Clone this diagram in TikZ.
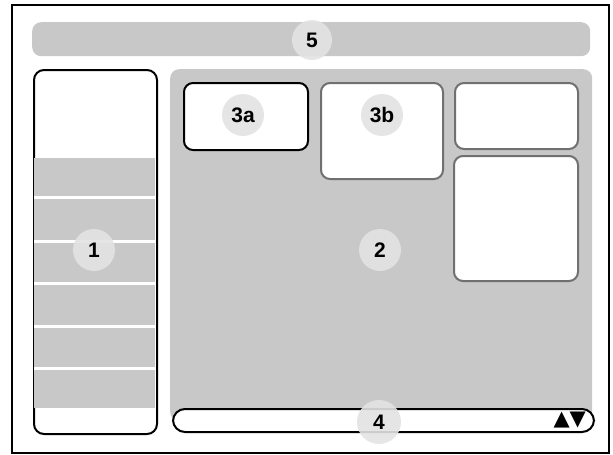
\documentclass[tikz,border=0pt]{standalone}
\usepackage{fontspec}
\setmainfont{Liberation Sans}
\newfontfamily\symfont{DejaVu Sans}
\definecolor{panelgray}{HTML}{C8C8C8}
\definecolor{badgegray}{HTML}{E3E3E3}
\definecolor{boxedge}{HTML}{707070}
\begin{document}
\begin{tikzpicture}[x=1pt,y=-1pt,
  frame/.style={draw=black, line width=1.5pt, inner sep=0pt, anchor=north west},
  graypanel/.style={fill=panelgray, rounded corners=9pt, inner sep=0pt, anchor=north west},
  blackwin/.style={draw=black, line width=2pt, fill=white, rounded corners=9pt, inner sep=0pt, anchor=north west},
  graywin/.style={draw=boxedge, line width=2pt, fill=white, rounded corners=9pt, inner sep=0pt, anchor=north west},
  badge/.style={circle, fill=badgegray, fill opacity=0.9, text opacity=1, minimum size=42pt, inner sep=0pt, font=\bfseries\fontsize{21}{21}\selectfont},
  stripe/.style={white, line width=3pt}
]
\useasboundingbox (0,0) rectangle (613,455);
\node[frame, minimum width=597pt, minimum height=448pt] (outer) at (11,4) {};
% top bar 5
\node[graypanel, minimum width=558pt, minimum height=34pt] (topbar) at (32,22) {};
% main area 2
\node[graypanel, minimum width=422pt, minimum height=352pt] (main) at (170,69) {};
% left panel 1
\node[blackwin, rounded corners=10pt, minimum width=123pt, minimum height=364pt] (left) at (33,69) {};
\fill[panelgray] (34,158) rectangle (155,408);
\foreach \yy in {197,241,283,326,368} \draw[stripe] (34,\yy) -- (155,\yy);
% windows
\node[blackwin, minimum width=124pt, minimum height=67pt] (w3a) at (183,82) {};
\node[graywin, minimum width=122pt, minimum height=96pt] (w3b) at (320,82) {};
\node[graywin, minimum width=123pt, minimum height=66pt] (wtr) at (454,82) {};
\node[graywin, minimum width=124pt, minimum height=125pt] (wbr) at (453,155) {};
% bottom bar 4
\node[blackwin, rounded corners=12pt, minimum width=421pt, minimum height=23pt] (bottombar) at (172,408) {};
\node[font=\symfont\fontsize{21}{21}\selectfont, inner sep=0pt, anchor=east] (arrows) at ([xshift=-9pt]bottombar.east) {▲▼};
% badges
\node[badge, minimum size=40pt] (b5) at (312,40) {5};
\node[badge] (b1) at (94,250) {1};
\node[badge] (b2) at (380,250) {2};
\node[badge] (b3a) at (243,115) {3a};
\node[badge] (b3b) at (382,115) {3b};
\node[badge, minimum size=44pt] (b4) at (379,422) {4};
\end{tikzpicture}
\end{document}
